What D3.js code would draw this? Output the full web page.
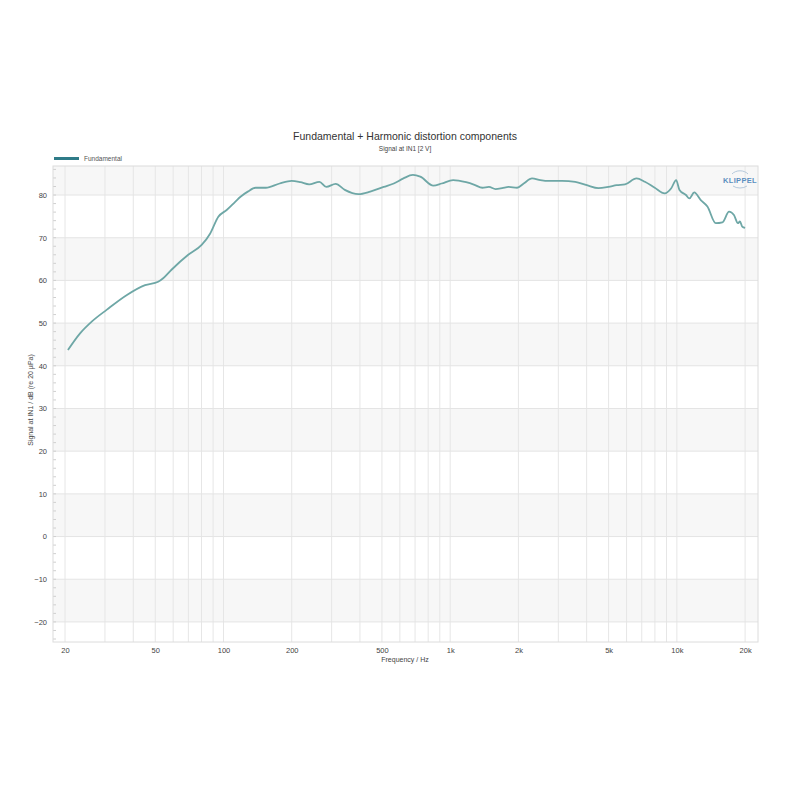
<!DOCTYPE html>
<html><head><meta charset="utf-8">
<script src="https://cdn.jsdelivr.net/npm/d3@7"></script>
<style>body{margin:0;background:#fff;} svg{display:block;font-family:"Liberation Sans",Arial,sans-serif;}</style>
</head><body>
<svg id="c" width="800" height="800"></svg>
<script>
const freqs = [20.6,23.3,26.3,30.5,37.5,45.1,51.5,54.2,59.0,69.9,80.1,87.4,94.9,103.3,112.6,118.9,128,138.5,153.8,176.9,200,218.5,238.7,265,284.2,312.5,343,393.9,444,509,564,622,685,738,843,917,1031,1176,1280,1387,1483,1586,1695,1812,1973,2111,2297,2500,2724,3115,3562,4007,4508,4990,5426,5904,6640,7226,7990,8837,9447,9929,10270,10970,11350,11930,12750,13640,14840,15880,16990,17860,18590,18980,19420,20000];
const levels = [43.7,47.6,50.4,53.1,56.6,58.9,59.7,60.5,62.5,66.0,68.3,71.0,74.9,76.5,78.4,79.6,80.8,81.7,81.7,82.7,83.3,83.0,82.5,83.1,81.9,82.6,81.2,80.2,80.8,81.9,82.7,83.9,84.7,84.3,82.2,82.7,83.5,83.0,82.4,81.7,81.9,81.4,81.6,81.9,81.7,82.7,83.9,83.5,83.3,83.3,83.1,82.3,81.6,81.9,82.3,82.5,83.9,83.1,81.7,80.4,81.6,83.5,81.2,80.0,79.2,80.6,78.8,77.3,73.4,73.6,76.1,75.3,73.4,73.8,72.6,72.3];
const xTickValues = [20,50,100,200,500,1000,2000,5000,10000,20000];
const xTickLabels = ["20","50","100","200","500","1k","2k","5k","10k","20k"];
const xGridValues = [20,30,40,50,60,70,80,90,100,200,300,400,500,600,700,800,900,1000,2000,3000,4000,5000,6000,7000,8000,9000,10000,20000];
const yTickValues = [-20,-10,0,10,20,30,40,50,60,70,80];
const yMinorValues = d3.range(-24,87,2);
const bandStarts = [-24.7,-20,-10,0,10,20,30,40,50,60,70,80];
const bandEnds = [-20,-10,0,10,20,30,40,50,60,70,80,86.8];

const svg = d3.select("#c");
const L=53,R=758,T=166,B=642;
const x = d3.scaleLog().domain([17.7,22800]).range([L,R]);
const y = d3.scaleLinear().domain([-24.7,86.8]).range([B,T]);

const g = svg.append("g");
bandStarts.forEach((s,i)=>{
  g.append("rect").attr("x",L).attr("width",R-L)
   .attr("y",y(bandEnds[i])).attr("height",y(s)-y(bandEnds[i]))
   .attr("fill", (i%2===0)?"#ffffff":"#f7f7f7");
});
g.selectAll("line.vg").data(xGridValues).enter().append("line")
 .attr("x1",d=>x(d)).attr("x2",d=>x(d)).attr("y1",T).attr("y2",B)
 .attr("stroke","#e6e6e6").attr("stroke-width",1);
g.selectAll("line.hg").data(yTickValues).enter().append("line")
 .attr("x1",L).attr("x2",R).attr("y1",d=>y(d)).attr("y2",d=>y(d))
 .attr("stroke","#e4e4e4").attr("stroke-width",1);
g.selectAll("line.mt").data(yMinorValues).enter().append("line")
 .attr("x1",L).attr("x2",L+3).attr("y1",d=>y(d)).attr("y2",d=>y(d))
 .attr("stroke","#cfcfcf").attr("stroke-width",1);
g.append("rect").attr("x",L).attr("y",T).attr("width",R-L).attr("height",B-T)
 .attr("fill","none").attr("stroke","#dcdcdc");

const xa = d3.axisBottom(x).tickValues(xTickValues).tickFormat((d,i)=>xTickLabels[i]).tickSize(0).tickPadding(6);
const xg = svg.append("g").attr("transform",`translate(0,${B})`).call(xa);
xg.select(".domain").remove();
xg.selectAll("text").attr("font-size",7.5).attr("fill","#444").attr("font-family","Liberation Sans, Arial, sans-serif");
const ya = d3.axisLeft(y).tickValues(yTickValues).tickSize(0).tickPadding(6);
const yg = svg.append("g").attr("transform",`translate(${L},0)`).call(ya);
yg.select(".domain").remove();
yg.selectAll("text").attr("font-size",7.5).attr("fill","#444").attr("font-family","Liberation Sans, Arial, sans-serif");

const data = freqs.map((f,i)=>({f, v:levels[i]}));
const line = d3.line().x(d=>x(d.f)).y(d=>y(d.v)).curve(d3.curveMonotoneX);
svg.append("path").datum(data).attr("d",line).attr("fill","none")
 .attr("stroke","#6ea7a6").attr("stroke-width",1.8).attr("stroke-linejoin","round");

svg.append("text").attr("x",405).attr("y",140).attr("text-anchor","middle")
 .attr("font-size",10.5).attr("fill","#333").text("Fundamental + Harmonic distortion components");
svg.append("text").attr("x",405).attr("y",151).attr("text-anchor","middle")
 .attr("font-size",6.5).attr("fill","#444").text("Signal at IN1 [2 V]");
svg.append("text").attr("x",405).attr("y",662).attr("text-anchor","middle")
 .attr("font-size",7).attr("fill","#444").text("Frequency / Hz");
svg.append("text").attr("transform","translate(33,400) rotate(-90)").attr("text-anchor","middle")
 .attr("font-size",7).attr("fill","#444").text("Signal at IN1 / dB (re 20 µPa)");

svg.append("line").attr("x1",54).attr("x2",79).attr("y1",158.5).attr("y2",158.5)
 .attr("stroke","#2f7b88").attr("stroke-width",3);
svg.append("text").attr("x",84).attr("y",161).attr("font-size",6.5).attr("fill","#555").text("Fundamental");

const lg = svg.append("g").attr("transform","translate(740,180)");
lg.append("text").attr("x",0).attr("y",3).attr("text-anchor","middle").attr("font-size",7.5)
 .attr("font-weight","bold").attr("fill","#5a8fc0").attr("letter-spacing",0.3).text("KLIPPEL");
lg.append("path").attr("d","M-8,-6 A10,8 0 0,1 8,-6").attr("fill","none").attr("stroke","#a3bdd4").attr("stroke-width",0.8);
lg.append("path").attr("d","M-7,6 A10,7 0 0,0 7,6").attr("fill","none").attr("stroke","#a3bdd4").attr("stroke-width",0.8);
</script>
</body></html>
